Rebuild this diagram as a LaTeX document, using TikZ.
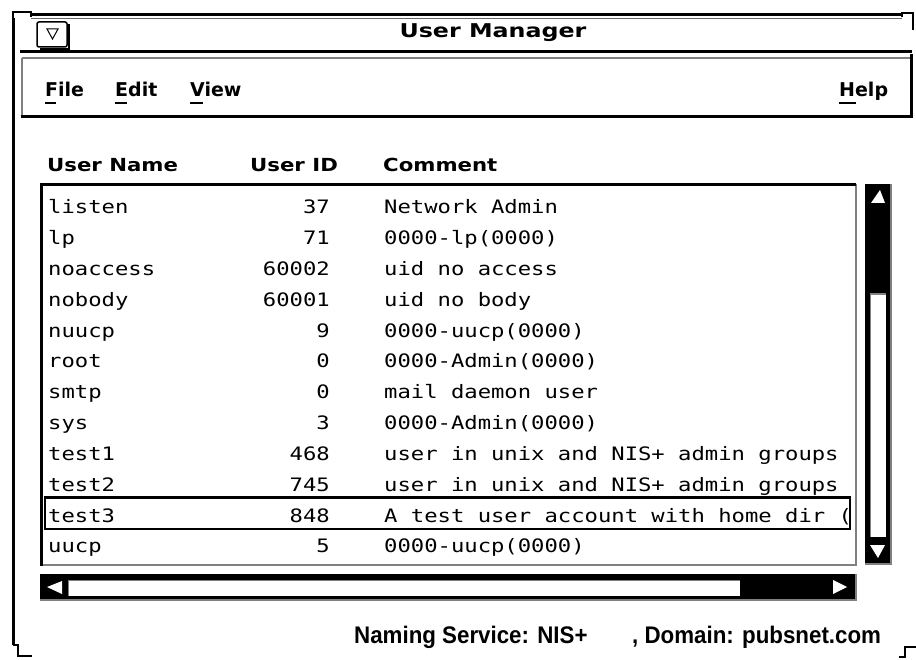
\documentclass[tikz,border=0pt]{standalone}
\usepackage{fontspec}
\newfontfamily\monof[FakeStretch=1.2]{DejaVu Sans Mono}
\newfontfamily\hdrf[FakeStretch=1.18]{DejaVu Sans}
\newfontfamily\titf[FakeStretch=1.25]{DejaVu Sans}
\newfontfamily\menuf{DejaVu Sans}
\newfontfamily\statf[FakeStretch=0.93]{Liberation Sans}
\tikzset{
  mono/.style={font=\monof\fontsize{18.5}{20}\selectfont, inner sep=0pt},
  hdr/.style={font=\hdrf\bfseries\fontsize{18}{20}\selectfont, inner sep=0pt, anchor=base west},
  menu/.style={font=\menuf\bfseries\fontsize{19}{21}\selectfont, inner sep=0pt, anchor=base west},
  stat/.style={font=\statf\bfseries\fontsize{24}{26}\selectfont, inner sep=0pt},
  stip/.style={draw=black!50, line width=2pt},
  dark/.style={draw=black, line width=3pt},
  uline/.style={draw=black, line width=1.5pt},
}
\begin{document}
\begin{tikzpicture}[x=1pt,y=-1pt]
\useasboundingbox[fill=white] (0,0) rectangle (916,660);
% window frame
\draw[line width=1.5pt] (13,26) -- (13,12) -- (31,12) -- (31,17);
\draw[line width=3pt] (13.5,18) -- (13.5,645);
\draw[line width=3pt] (31,15) -- (902,15);
\draw[line width=1pt, black!60] (31,18.5) -- (902,18.5);
\draw[line width=1.5pt] (902,17) -- (902,13) -- (913,13) -- (913,30);
\draw[line width=1.5pt] (13,645) -- (18,645) -- (18,656) -- (32,656);
\draw[line width=1.5pt] (899,657) -- (905,657) -- (905,647) -- (916,647);
% title bar
\draw[line width=1.5pt, rounded corners=2pt] (37,22) rectangle (67,47);
\draw[line width=1.5pt] (67,25) -- (69,25) -- (69,49) -- (40,49);
\draw[line width=1pt] (47,29) -- (58,29) -- (52.5,39) -- cycle;
\node[font=\titf\bfseries\fontsize{19}{21}\selectfont, inner sep=0pt, anchor=base] (title) at (493,38) {User Manager};
\draw[line width=3pt] (20,52) -- (912,52);
% menu bar
\draw[stip] (22,58) -- (911,58);
\draw[stip] (22,58) -- (22,117);
\draw[dark] (20.5,117) -- (912.5,117);
\draw[dark] (911,54) -- (911,118);
\node[menu] (mfile) at (45,97) {File};
\node[menu] (medit) at (115,97) {Edit};
\node[menu] (mview) at (190,97) {View};
\node[menu] (mhelp) at (839,97) {Help};
\draw[uline] (45,103) -- (56,103);
\draw[uline] (115,103) -- (127,103);
\draw[uline] (190,103) -- (203,103);
\draw[uline] (839,103) -- (856,103);
% column headers
\node[hdr] (hname) at (47,172) {User Name};
\node[hdr] (hid) at (250,172) {User ID};
\node[hdr] (hcom) at (383,172) {Comment};
% list box
\draw[stip] (856,184) -- (856,565);
\draw[stip] (40,565) -- (857,565);
\draw[dark] (41.5,184) -- (41.5,566);
\draw[dark] (40,184.5) -- (856,184.5);
% rows
\foreach \n/\i/\c [count=\k] in {
  listen/37/Network Admin,
  lp/71/0000-lp(0000),
  noaccess/60002/uid no access,
  nobody/60001/uid no body,
  nuucp/9/0000-uucp(0000),
  root/0/0000-Admin(0000),
  smtp/0/mail daemon user,
  sys/3/0000-Admin(0000),
  test1/468/user in unix and NIS+ admin groups,
  test2/745/user in unix and NIS+ admin groups,
  test3/848/A test user account with home dir (,
  uucp/5/0000-uucp(0000)}{
  \node[mono, anchor=base west] (name\k) at (48,{214+30.8*(\k-1)}) {\n};
  \node[mono, anchor=base east] (id\k) at (330,{214+30.8*(\k-1)}) {\i};
  \node[mono, anchor=base west] (cm\k) at (384,{214+30.8*(\k-1)}) {\c};
}
% selected row
\draw[line width=2.5pt] (45,497.5) rectangle (850,529);
% vertical scrollbar
\fill[black] (865,184) rectangle (892,565);
\draw[stip] (891,184) -- (891,565);
\draw[stip] (865,564) -- (892,564);
\fill[white] (870,293) rectangle (886,537);
\draw[draw=black!50, line width=1.5pt] (870,294) -- (886,294);
\draw[draw=black!50, line width=1.5pt] (870.5,294) -- (870.5,537);
\fill[white] (871,203) -- (885,203) -- (880,190) -- cycle;
\fill[white] (870,545) -- (885,545) -- (878,558) -- cycle;
% horizontal scrollbar
\fill[black] (40,574) rectangle (857,601);
\draw[stip] (40,600) -- (857,600);
\draw[stip] (856,574) -- (856,601);
\fill[white] (68,580) rectangle (740,596);
\draw[draw=black!50, line width=1.5pt] (68,580.5) -- (740,580.5);
\draw[draw=black!50, line width=1.5pt] (68.5,580) -- (68.5,596);
\fill[white] (47,587) -- (62,581) -- (62,594) -- cycle;
\fill[white] (833,580) -- (847,587) -- (833,594) -- cycle;
% status line
\node[stat, anchor=base west] (ns) at (354,643) {Naming Service: NIS+};
\node[stat, anchor=base west] (dom) at (632,643) {, Domain: pubsnet.com};
\end{tikzpicture}
\end{document}
